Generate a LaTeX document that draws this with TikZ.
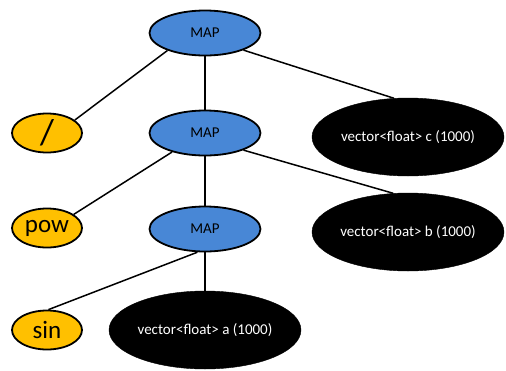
\documentclass[tikz,border=0pt]{standalone}
\usepackage{fontspec}
\setmainfont{Carlito}
\usetikzlibrary{shapes.geometric}
\definecolor{mapblue}{RGB}{72,135,214}
\definecolor{opgold}{RGB}{255,192,0}
\tikzset{
  mapnode/.style={ellipse, draw=black, line width=1.8pt, fill=mapblue, minimum width=111pt, minimum height=45pt, inner sep=0pt, font=\fontsize{15}{17}\selectfont},
  opnode/.style={ellipse, draw=black, line width=1.8pt, fill=opgold, minimum width=70pt, minimum height=39pt, inner sep=0pt, font=\fontsize{25}{28}\selectfont},
  vecnode/.style={ellipse, draw=black, fill=black, text=white, minimum width=192pt, minimum height=78pt, inner sep=0pt, font=\fontsize{15}{17}\selectfont},
  link/.style={line width=1.5pt, black}
}
\begin{document}
\begin{tikzpicture}[x=1pt,y=1pt]
\useasboundingbox (0,0) rectangle (506,-370);
\node[vecnode] (c) at (408,-137) {vector<float> c (1000)};
\node[vecnode] (b) at (408,-232) {vector<float> b (1000)};
\node[vecnode] (a) at (205,-330) {vector<float> a (1000)};
\node[mapnode] (m1) at (205,-33) {MAP};
\node[mapnode] (m2) at (205,-133) {MAP};
\node[mapnode] (m3) at (205,-229) {MAP};
\node[opnode, font=\fontsize{36}{40}\selectfont] (div) at (47,-133) {/};
\node[opnode] (pow) at (47,-228) {pow};
\node[opnode] (sin) at (47,-330) {sin};
\draw[link] (m1.205) -- (div.25);
\draw[link] (m1.south) -- (m2.north);
\draw[link] (m1.336) -- (c.110);
\draw[link] (m2.210) -- (pow.27);
\draw[link] (m2.south) -- (m3.north);
\draw[link] (m2.336) -- (b.111);
\draw[link] (m3.252) -- (sin.86);
\draw[link] (m3.south) -- (a.north);
\end{tikzpicture}
\end{document}
